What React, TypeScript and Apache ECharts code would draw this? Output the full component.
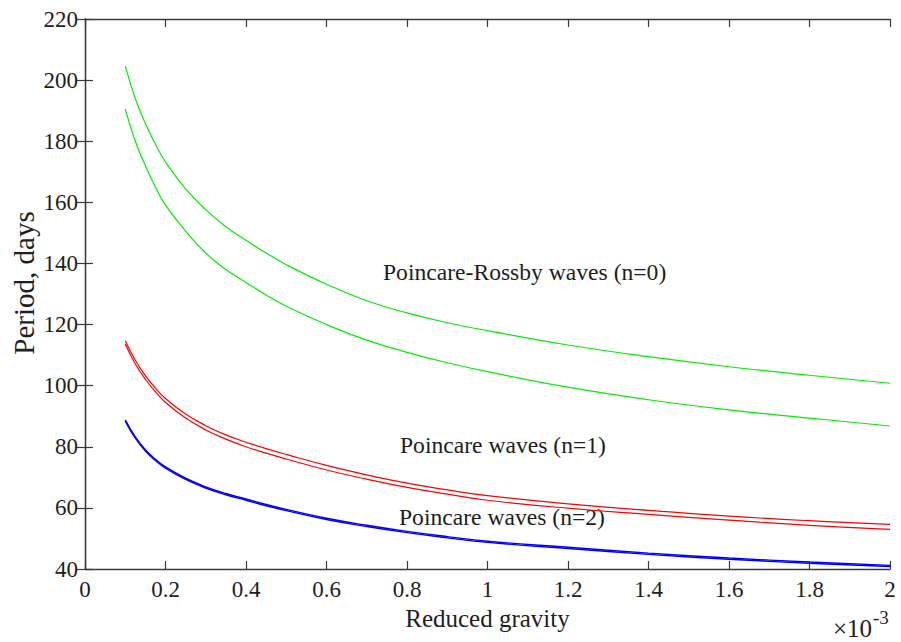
import { useEffect, useRef } from "react";
import * as echarts from "echarts";

// Reduced gravity (×10^-3)
const gravity = [0.1, 0.125, 0.15, 0.175, 0.2, 0.25, 0.3, 0.35, 0.4, 0.45, 0.5, 0.6, 0.7, 0.8, 0.9, 1.0, 1.2, 1.4, 1.6, 1.8, 2.0];

// Period, days
const rossbyUpper = [204.6, 194.0, 185.8, 179.0, 173.2, 164.4, 157.6, 152.0, 147.6, 143.4, 139.6, 133.2, 127.8, 123.8, 120.6, 118.0, 113.3, 109.5, 106.2, 103.4, 100.8];
const rossbyLower = [190.5, 180.0, 172.0, 165.0, 159.1, 150.6, 143.4, 138.0, 133.8, 129.7, 126.0, 120.0, 114.9, 110.9, 107.5, 104.6, 99.5, 95.4, 92.1, 89.4, 86.8];
const poincare1Upper = [114.7, 108.3, 103.3, 99.2, 95.8, 90.7, 86.9, 83.9, 81.5, 79.4, 77.5, 73.9, 70.8, 68.1, 65.9, 64.0, 61.3, 59.2, 57.3, 55.8, 54.6];
const poincare1Lower = [113.6, 107.1, 102.1, 98.0, 94.5, 89.4, 85.5, 82.5, 80.0, 77.9, 76.0, 72.4, 69.4, 66.7, 64.5, 62.5, 59.9, 57.9, 56.0, 54.3, 53.0];
const poincare2Upper = [88.8, 83.2, 79.0, 75.9, 73.4, 69.7, 66.9, 64.7, 62.9, 61.1, 59.5, 56.6, 54.3, 52.3, 50.6, 49.1, 47.1, 45.2, 43.6, 42.3, 41.2];
const poincare2Lower = [88.4, 82.8, 78.6, 75.5, 73.0, 69.3, 66.5, 64.3, 62.5, 60.7, 59.1, 56.2, 53.9, 51.9, 50.2, 48.7, 46.7, 44.8, 43.2, 41.9, 40.8];

const labels = [
  { text: "Poincare-Rossby waves (n=0)", x: 383, y: 272 },
  { text: "Poincare waves (n=1)", x: 400, y: 445 },
  { text: "Poincare waves (n=2)", x: 399, y: 517 },
];

const FONT = "'Liberation Serif', 'Times New Roman', serif";
const AXIS_COLOR = "#3a3a3a";
const TEXT_COLOR = "#1e1e1e";

export default function App() {
  const ref = useRef<HTMLDivElement>(null);

  useEffect(() => {
    const chart = echarts.init(ref.current!, null, { renderer: "svg" });
    const pair = (ys: number[]) => gravity.map((x, i) => [x, ys[i]]);
    const line = (name: string, ys: number[], color: string, width = 1.2) => ({
      type: "line",
      name,
      data: pair(ys),
      symbol: "none",
      showSymbol: false,
      smooth: 0.45,
      silent: true,
      lineStyle: { color, width },
      itemStyle: { color },
      xAxisIndex: 0,
      yAxisIndex: 0,
    });

    const fmt = (v: number) => String(+(+v).toFixed(1));

    const txt = (text: string, x: number, y: number, size: number, extra: any = {}) => ({
      type: "text",
      x,
      y,
      silent: true,
      ...extra,
      style: {
        text,
        font: `${size}px ${FONT}`,
        fill: TEXT_COLOR,
        align: extra.align || "left",
        verticalAlign: "middle",
        textAlign: extra.align || "left",
        textVerticalAlign: "middle",
      },
    });

    chart.setOption({
      animation: false,
      backgroundColor: "#ffffff",
      grid: { left: 85, right: 11, top: 19, bottom: 73, containLabel: false },
      xAxis: [
        {
          type: "value",
          min: 0,
          max: 2,
          interval: 0.2,
          position: "bottom",
          name: "Reduced gravity",
          nameLocation: "middle",
          nameGap: 25,
          nameTextStyle: { fontFamily: FONT, fontSize: 25, color: TEXT_COLOR },
          axisLine: { show: true, lineStyle: { color: AXIS_COLOR, width: 1.3 } },
          axisTick: { show: true, inside: true, length: 8, lineStyle: { color: AXIS_COLOR, width: 1.2 } },
          axisLabel: { fontFamily: FONT, fontSize: 23, color: TEXT_COLOR, margin: 9, formatter: fmt },
          splitLine: { show: false },
        },
        {
          type: "value",
          min: 0,
          max: 2,
          interval: 0.2,
          position: "top",
          axisLine: { show: true, lineStyle: { color: AXIS_COLOR, width: 1.3 } },
          axisTick: { show: true, inside: true, length: 8, lineStyle: { color: AXIS_COLOR, width: 1.2 } },
          axisLabel: { show: false },
          splitLine: { show: false },
        },
      ],
      yAxis: [
        {
          type: "value",
          min: 40,
          max: 220,
          interval: 20,
          position: "left",
          axisLine: { show: true, lineStyle: { color: AXIS_COLOR, width: 1.3 } },
          axisTick: { show: true, inside: true, length: 8, lineStyle: { color: AXIS_COLOR, width: 1.2 } },
          axisLabel: { fontFamily: FONT, fontSize: 23, color: TEXT_COLOR, margin: 7 },
          splitLine: { show: false },
        },
        {
          type: "value",
          min: 40,
          max: 220,
          interval: 20,
          position: "right",
          axisLine: { show: true, lineStyle: { color: AXIS_COLOR, width: 1.3 } },
          axisTick: { show: true, inside: true, length: 8, lineStyle: { color: AXIS_COLOR, width: 1.2 } },
          axisLabel: { show: false },
          splitLine: { show: false },
        },
      ],
      series: [
        line("Poincare-Rossby upper", rossbyUpper, "#00ee00"),
        line("Poincare-Rossby lower", rossbyLower, "#00ee00"),
        line("Poincare n=1 upper", poincare1Upper, "#ff0000"),
        line("Poincare n=1 lower", poincare1Lower, "#ff0000"),
        line("Poincare n=2 upper", poincare2Upper, "#0000ff", 1.4),
        line("Poincare n=2 lower", poincare2Lower, "#0000ff", 1.4),
      ],
      graphic: [
        ...labels.map((l) => txt(l.text, l.x, l.y, 23.6)),
        txt("Period, days", 24, 283, 29, { rotation: Math.PI / 2, align: "center" }),
        txt("×10", 833, 628, 25),
        txt("-3", 873, 617, 19),
      ],
    });

    return () => chart.dispose();
  }, []);

  return (
    <div
      ref={ref}
      style={{ position: "fixed", left: 0, top: 0, width: 901, height: 642, background: "#ffffff" }}
    />
  );
}
